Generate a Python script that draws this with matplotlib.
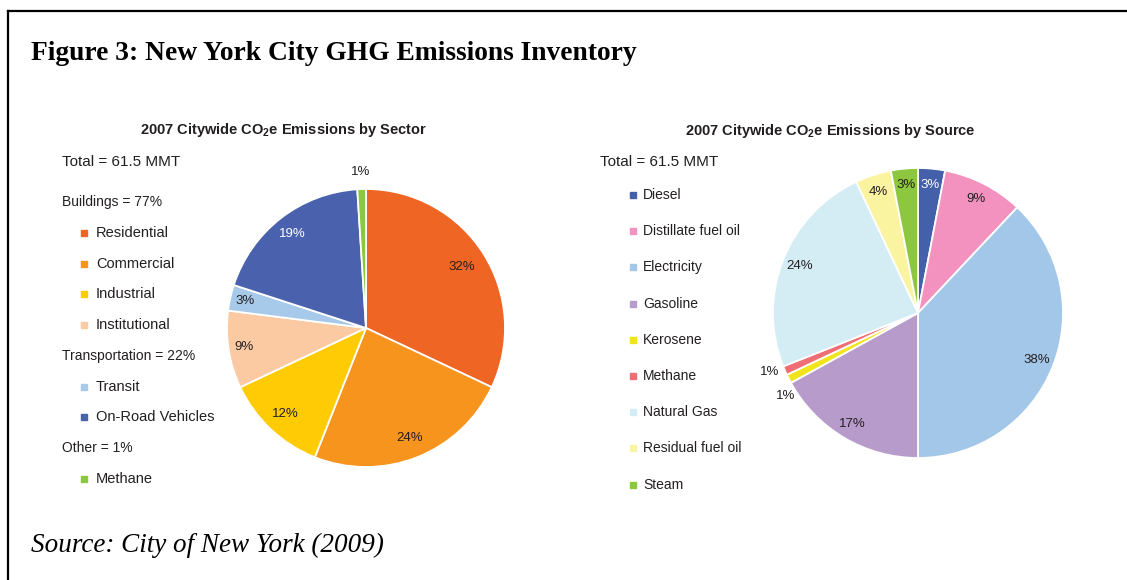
import numpy as np
import matplotlib
matplotlib.use("Agg")
import matplotlib.pyplot as plt
from matplotlib.lines import Line2D
from matplotlib.patches import Rectangle

# =========================
# Data
# =========================
sector_labels = ["Residential", "Commercial", "Industrial", "Institutional",
                 "Transit", "On-Road Vehicles", "Methane"]
sector_values = [32, 24, 12, 9, 3, 19, 1]
sector_colors = ["#EF6523", "#F7941D", "#FFCB05", "#FBC9A2",
                 "#A7C9EA", "#4A62AE", "#8DC63F"]
sector_groups = [("Buildings = 77%", ["Residential", "Commercial", "Industrial", "Institutional"]),
                 ("Transportation = 22%", ["Transit", "On-Road Vehicles"]),
                 ("Other = 1%", ["Methane"])]

source_labels = ["Diesel", "Distillate fuel oil", "Electricity", "Gasoline",
                 "Kerosene", "Methane", "Natural Gas", "Residual fuel oil", "Steam"]
source_values = [3, 9, 38, 17, 1, 1, 24, 4, 3]
source_colors = ["#4560AA", "#F391BF", "#A3C7E9", "#B79BCB",
                 "#F2E41C", "#EE6E73", "#D4ECF4", "#FAF3A0", "#8DC63F"]

total_text = "Total = 61.5 MMT"

W, H = 1127, 580
plt.rcParams["font.family"] = ["Liberation Sans", "DejaVu Sans"]
plt.rcParams["mathtext.default"] = "regular"
TXT = "#231F20"

fig = plt.figure(figsize=(W / 100, H / 100), dpi=100)

# pixel-coordinate overlay for text, legends and frame
bg = fig.add_axes([0, 0, 1, 1])
bg.set_xlim(0, W)
bg.set_ylim(H, 0)
bg.axis("off")

bg.add_line(Line2D([8, W], [11, 11], color="black", lw=1.6))
bg.add_line(Line2D([8, 8], [11, H], color="black", lw=1.6))

bg.text(31, 54, "Figure 3: New York City GHG Emissions Inventory",
        family="Liberation Serif", weight="bold", fontsize=19.8, va="center")
bg.text(31, 545, "Source: City of New York (2009)",
        family="Liberation Serif", style="italic", fontsize=19.5, va="center")


def pie_axes(cx, cy, r, lim=1.3):
    s = r * lim
    ax = fig.add_axes([(cx - s) / W, (H - cy - s) / H, 2 * s / W, 2 * s / H])
    ax.axis("off")
    return ax


def draw_pie(ax, values, colors, dists, shifts, white_idx):
    wedges, _ = ax.pie(values, colors=colors, startangle=90, counterclock=False,
                       wedgeprops=dict(edgecolor="white", linewidth=1.3))
    ax.set_xlim(-1.3, 1.3)
    ax.set_ylim(-1.3, 1.3)
    ax.set_aspect("equal")
    for i, (w, v) in enumerate(zip(wedges, values)):
        th = np.deg2rad((w.theta1 + w.theta2) / 2 + shifts[i])
        d = dists[i]
        ax.text(d * np.cos(th), d * np.sin(th), f"{v}%", ha="center", va="center",
                fontsize=9.5, color="white" if i in white_idx else TXT)


# ---- left pie: by sector
ax1 = pie_axes(366, 328, 139)
draw_pie(ax1, sector_values, sector_colors,
         [0.82, 0.85, 0.85, 0.89, 0.89, 0.86, 1.12], [0] * 7, [5])
bg.text(283, 130, "2007 Citywide CO$_2$e Emissions by Sector", ha="center", va="center",
        fontsize=10.5, weight="bold", color=TXT)
bg.text(62, 162, total_text, fontsize=11, va="center", color=TXT)

y = 202
for header, members in sector_groups:
    bg.text(62, y, header, fontsize=10, va="center", color=TXT)
    y += 31
    for name in members:
        c = sector_colors[sector_labels.index(name)]
        bg.add_patch(Rectangle((81, y - 3), 6, 6, color=c))
        bg.text(96, y, name, fontsize=10.5, va="center", color=TXT)
        y += 30.7

# ---- right pie: by source
ax2 = pie_axes(918, 313, 145)
draw_pie(ax2, source_values, source_colors,
         [0.89, 0.88, 0.88, 0.89, 1.08, 1.1, 0.88, 0.88, 0.89],
         [0, 0, 0, 0, 5, -1.5, 0, 0, 0], [0])
bg.text(830, 131, "2007 Citywide CO$_2$e Emissions by Source", ha="center", va="center",
        fontsize=10.5, weight="bold", color=TXT)
bg.text(600, 162, total_text, fontsize=11, va="center", color=TXT)

for i, (name, c) in enumerate(zip(source_labels, source_colors)):
    yy = 195 + i * 36.2
    bg.add_patch(Rectangle((630, yy - 3), 6, 6, color=c))
    bg.text(643, yy, name, fontsize=10, va="center", color=TXT)

fig.savefig("out.png", dpi=100)
